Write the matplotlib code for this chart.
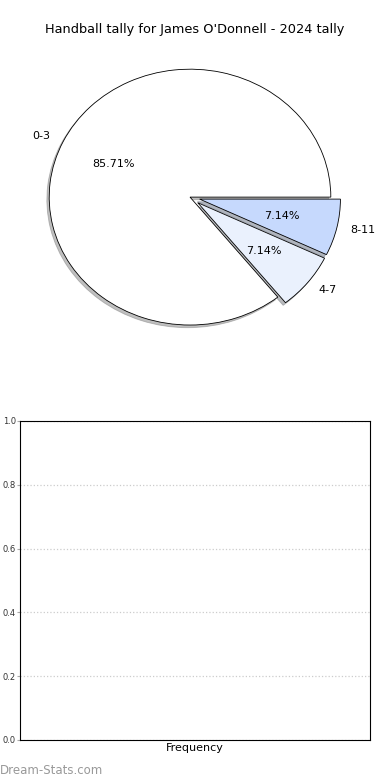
import matplotlib.pyplot as plt

labels = ["0-3", "4-7", "8-11"]
counts = [12, 1, 1]
colors = ["#ffffff", "#eaf1fd", "#c6d9fd"]
explode = [0.0, 0.07, 0.07]
yticks = [0.0, 0.2, 0.4, 0.6, 0.8, 1.0]

fig = plt.figure(figsize=(3.9, 7.8), dpi=100)

# pie on top (stretched, not circular)
ax1 = fig.add_axes([0.0359, 0.5423, 0.9026, 0.410])
ax1.pie(
    counts,
    labels=labels,
    colors=colors,
    explode=explode,
    autopct="%1.2f%%",
    shadow={"ox": -0.012, "oy": -0.015, "shade": 0.5},
    startangle=0,
    wedgeprops={"edgecolor": "black", "linewidth": 0.6},
    textprops={"fontsize": 8},
)
ax1.set_aspect("auto")
ax1.set_xlim(-1.25, 1.25)
ax1.set_ylim(-1.25, 1.25)

fig.text(0.5, 1 - 30 / 780, "Handball tally for James O'Donnell - 2024 tally",
         ha="center", va="center", fontsize=9.3)

# empty frequency axes below
ax2 = fig.add_axes([0.0513, 0.0513, 0.897, 0.409])
ax2.set_ylim(0, 1)
ax2.set_yticks(yticks)
ax2.set_xticks([])
ax2.tick_params(axis="y", labelsize=6, length=2, pad=1,
                color="#aaaaaa", labelcolor="#333333")
ax2.yaxis.grid(True, linestyle=":", color="#cccccc", linewidth=0.9)
ax2.set_axisbelow(True)
ax2.set_xlabel("Frequency", fontsize=8, labelpad=2)

fig.text(0.0, 1 - 770 / 780, "Dream-Stats.com", ha="left", va="center",
         fontsize=8.5, color="#999999")

plt.savefig("out.png", dpi=100)
